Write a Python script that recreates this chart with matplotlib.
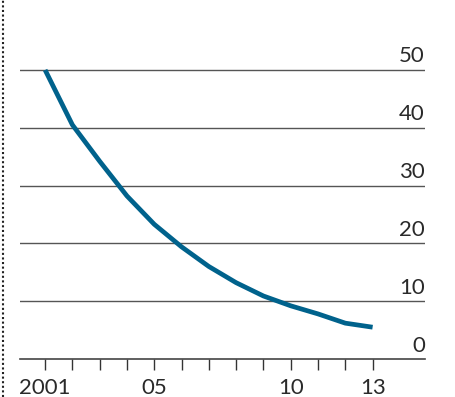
import matplotlib
matplotlib.use("Agg")
import matplotlib.pyplot as plt
from matplotlib.lines import Line2D

years = [2001, 2002, 2003, 2004, 2005, 2006, 2007, 2008, 2009, 2010, 2011, 2012, 2013]
values = [50, 40.5, 34.2, 28.2, 23.3, 19.4, 16.0, 13.2, 10.9, 9.2, 7.8, 6.2, 5.5]
yticks = [0, 10, 20, 30, 40, 50]
xlabel_years = [2001, 2005, 2010, 2013]
xlabel_text = ['2001', '05', '10', '13']

plt.rcParams['font.family'] = ['Lato', 'DejaVu Sans']

fig = plt.figure(figsize=(4.56, 3.97), dpi=100)
ax = fig.add_axes([20/456, 38/397, 405/456, 359/397])

ax.plot(years, values, color='#00628c', lw=3.4, solid_capstyle='butt',
        solid_joinstyle='round', zorder=3)

for v in yticks[1:]:
    ax.axhline(v, color='#555555', lw=1.0, zorder=1)
for v in yticks:
    ax.text(1.0, v + 0.6, str(v), transform=ax.get_yaxis_transform(),
            ha='right', va='bottom', fontsize=16, color='#2a2a2a')

ax.set_xlim(2000.08, 2014.92)
ax.set_ylim(0, 62.1)
ax.set_yticks([])
ax.set_xticks(years)
ax.set_xticklabels([])
ax.tick_params(axis='x', direction='out', length=8, width=1, color='#333333')
for y, t in zip(xlabel_years, xlabel_text):
    ax.text(y, -6.0, t, ha='center', va='baseline', fontsize=16, color='#2a2a2a')

for s in ['top', 'right', 'left']:
    ax.spines[s].set_visible(False)
ax.spines['bottom'].set_color('#444444')
ax.spines['bottom'].set_linewidth(1.2)

fig.add_artist(Line2D([3/456, 3/456], [0, 1], transform=fig.transFigure,
                      color='#222222', lw=1.5, linestyle=(0, (1, 1.2))))

fig.savefig('out.png', dpi=100)
